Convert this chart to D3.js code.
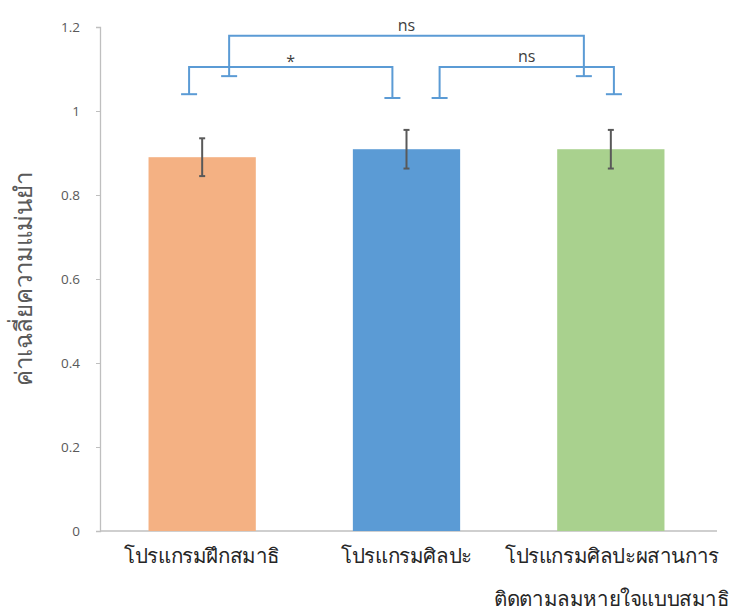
<!DOCTYPE html>
<html><head><meta charset="utf-8">
<script src="https://cdn.jsdelivr.net/npm/d3@7"></script>
<style>body{margin:0;background:#fff}</style>
</head><body>
<svg id="c" width="729" height="611"></svg>
<script>
const categories = ["โปรแกรมฝึกสมาธิ", "โปรแกรมศิลปะ", "โปรแกรมศิลปะผสานการ|ติดตามลมหายใจแบบสมาธิ"];
const means = [0.89, 0.909, 0.909];
const errors = [0.045, 0.046, 0.046];
const colors = ["#F4B183", "#5B9BD5", "#A9D18E"];
const yTicks = [0, 0.2, 0.4, 0.6, 0.8, 1, 1.2];
const yLabel = "ค่าเฉลี่ยความแม่นยำ";
// significance brackets: from/to category index, offset in category steps, bracket top value, leg end values
const brFrom = [0, 0, 1];
const brTo = [1, 2, 2];
const brFromOff = [-0.064, 0.132, 0.162];
const brToOff = [-0.069, -0.132, 0.015];
const brTop = [1.105, 1.179, 1.105];
const brLeftEnd = [1.040, 1.083, 1.031];
const brRightEnd = [1.031, 1.083, 1.040];
const brLabel = ["*", "ns", "ns"];

const svg = d3.select("#c");
const m = {l: 100, r: 16, t: 27, b: 80};
const W = 729, H = 611;
const x = d3.scaleBand().domain(d3.range(categories.length)).range([m.l, W - m.r]).paddingInner(0.475).paddingOuter(0.2375);
const y = d3.scaleLinear().domain([0, 1.2]).range([H - m.b, m.t]);

// axes
const ya = svg.append("g").attr("transform", `translate(${m.l},0)`)
  .call(d3.axisLeft(y).tickValues(yTicks).tickSize(4).tickPadding(16).tickFormat(d => d3.format("")(d)));
ya.select(".domain").attr("stroke", "#BFBFBF").attr("stroke-width", 1.3);
ya.selectAll(".tick line").attr("stroke", "#BFBFBF");
ya.selectAll(".tick text").attr("fill", "#595959").attr("font-size", 13.5).attr("font-family", "Open Sans, Liberation Sans, sans-serif");

svg.append("line").attr("x1", m.l).attr("x2", W - m.r + 4).attr("y1", y(0)).attr("y2", y(0)).attr("stroke", "#BFBFBF").attr("stroke-width", 1.3);

// bars
svg.selectAll("rect.bar").data(means).join("rect").attr("class", "bar")
  .attr("x", (d, i) => x(i)).attr("width", x.bandwidth())
  .attr("y", d => y(d)).attr("height", d => y(0) - y(d))
  .attr("fill", (d, i) => colors[i]);

// error bars
const eb = svg.append("g").attr("stroke", "#595959").attr("stroke-width", 2);
means.forEach((v, i) => {
  const cx = x(i) + x.bandwidth() / 2;
  eb.append("line").attr("x1", cx).attr("x2", cx).attr("y1", y(v + errors[i])).attr("y2", y(v - errors[i]));
  [v + errors[i], v - errors[i]].forEach(e => eb.append("line").attr("x1", cx - 3).attr("x2", cx + 3).attr("y1", y(e)).attr("y2", y(e)));
});

// brackets
const bg = svg.append("g").attr("stroke", "#5B9BD5").attr("stroke-width", 2).attr("fill", "none");
brLabel.forEach((lab, k) => {
  const st = x.step();
  const xl = x(brFrom[k]) + x.bandwidth() / 2 + brFromOff[k] * st;
  const xr = x(brTo[k]) + x.bandwidth() / 2 + brToOff[k] * st;
  bg.append("path").attr("d", `M${xl},${y(brLeftEnd[k])}V${y(brTop[k])}H${xr}V${y(brRightEnd[k])}`);
  bg.append("line").attr("x1", xl - 8).attr("x2", xl + 8).attr("y1", y(brLeftEnd[k])).attr("y2", y(brLeftEnd[k]));
  bg.append("line").attr("x1", xr - 8).attr("x2", xr + 8).attr("y1", y(brRightEnd[k])).attr("y2", y(brRightEnd[k]));
  svg.append("text").attr("x", (xl + xr) / 2).attr("y", y(brTop[k]) - (lab === "*" ? 0 : 5))
    .attr("text-anchor", "middle").attr("fill", "#404040")
    .attr("font-family", "Open Sans, Liberation Sans, sans-serif").attr("font-size", 16)
    .text(lab);
});

// x labels
categories.forEach((c, i) => {
  const lines = c.split("|");
  const cx = x(i) + x.bandwidth() / 2 + (i === 2 ? 1 : 0);
  const t = svg.append("text").attr("x", cx).attr("y", y(0) + 32)
    .attr("text-anchor", "middle").attr("fill", "#262626")
    .attr("font-family", "Noto Sans, DejaVu Sans, sans-serif").attr("font-size", 20.5)
    .attr("letter-spacing", -0.4);
  lines.forEach((l, j) => t.append("tspan").attr("x", cx).attr("dy", j ? 43 : 0).text(l));
});

// y label
svg.append("text").attr("transform", `translate(32,${(y(0) + y(1.2)) / 2}) rotate(-90)`)
  .attr("text-anchor", "middle").attr("fill", "#595959")
  .attr("font-family", "Noto Sans, DejaVu Sans, sans-serif").attr("font-size", 24)
  .text(yLabel);
</script>
</body></html>
